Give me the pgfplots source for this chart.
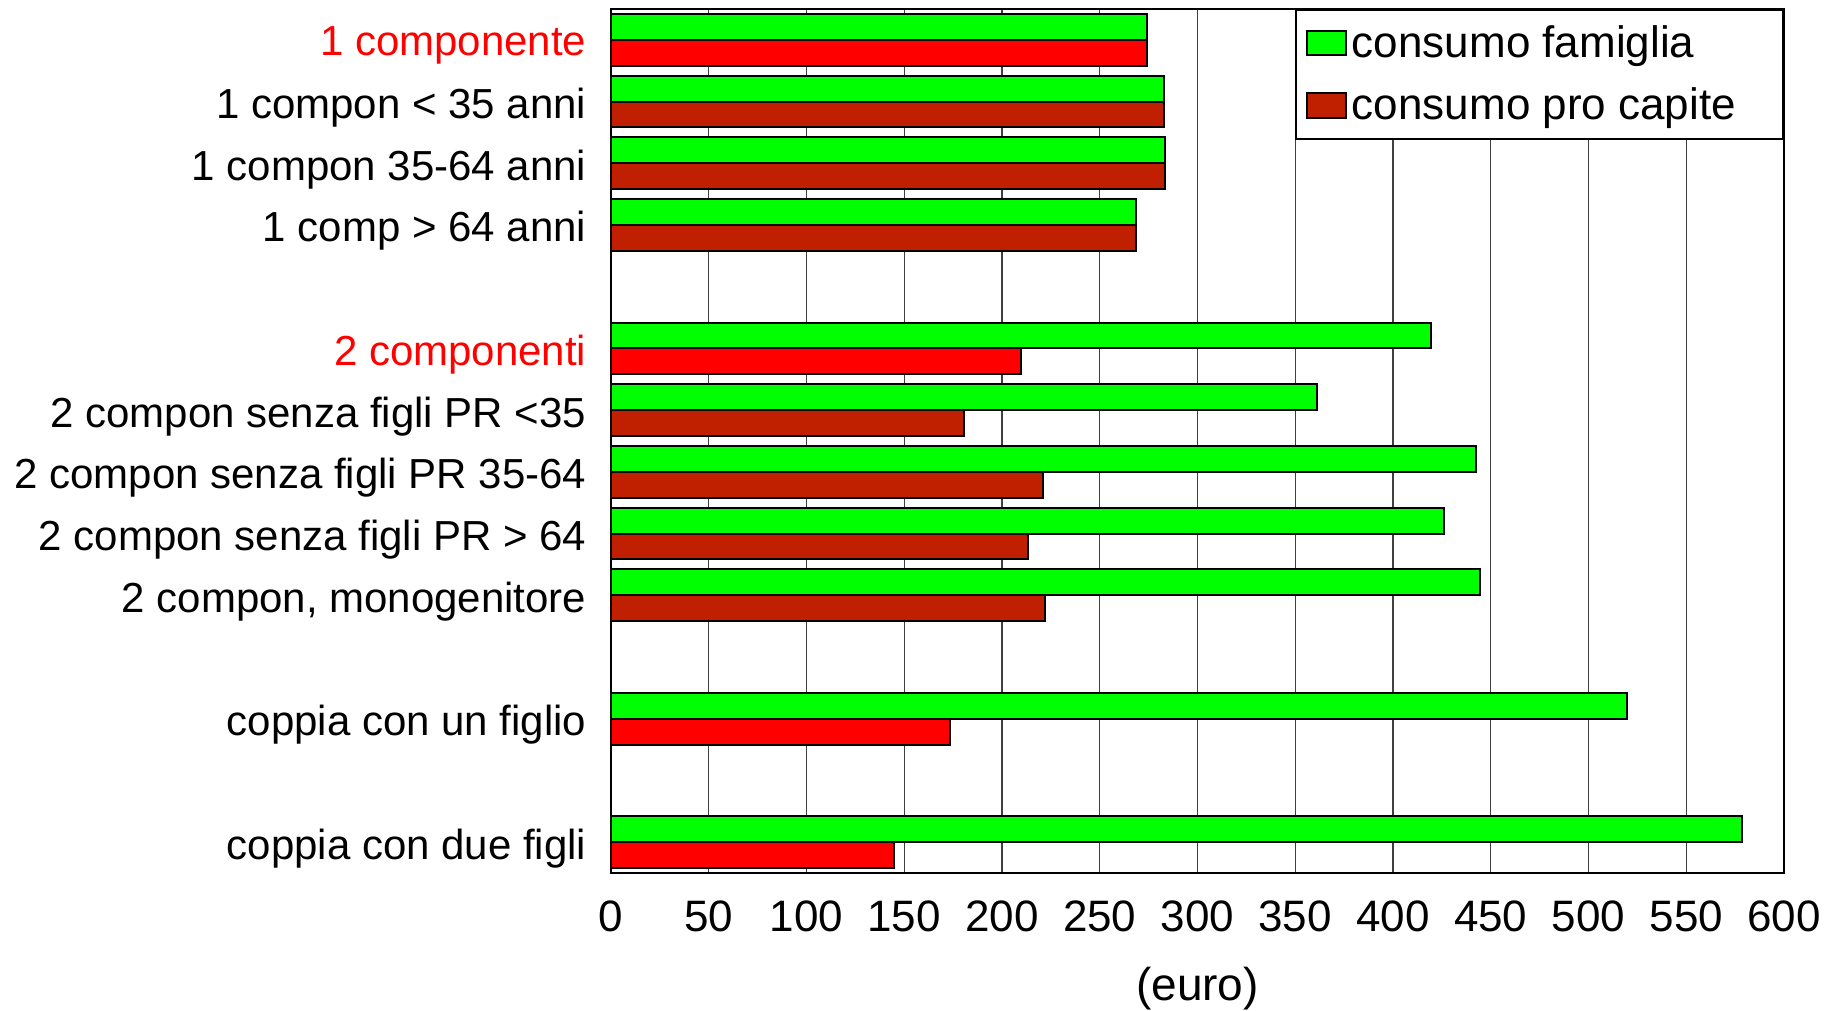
\documentclass[border=0pt]{standalone}
\usepackage{pgfplots}
\pgfplotsset{compat=1.18}
\usepackage{fontspec}
\setmainfont{Liberation Sans}
\definecolor{cgreen}{RGB}{0,255,0}
\definecolor{cdark}{RGB}{192,32,0}
\definecolor{cred}{RGB}{255,0,0}
\newcommand{\fsy}{\fontsize{21}{25}\selectfont}
\newcommand{\fsx}{\fontsize{22}{26}\selectfont}
\newcommand{\fsl}{\fontsize{23}{27}\selectfont}
\begin{document}
\begin{tikzpicture}
\begin{axis}[
  name=ax,
  scale only axis,
  width=586.5pt, height=432pt,
  xbar,
  bar width=0.42,
  xmin=0, xmax=600,
  ymin=-0.5, ymax=13.5,
  y dir=reverse,
  xtick={0,50,...,600},
  ytick={0,1,2,3,5,6,7,8,9,11,13},
  yticklabels={{\textcolor{red}{1 componente}},{1 compon < 35 anni},{1 compon 35-64 anni},{1 comp > 64 anni},{\textcolor{red}{2 componenti}},{2 compon senza figli PR <35},{2 compon senza figli PR 35-64},{2 compon senza figli PR > 64},{2 compon, monogenitore},{coppia con un figlio},{coppia con due figli}},
  /pgf/number format/assume math mode=true,
  xticklabel style={font=\fsx, yshift=-10.3pt},
  yticklabel style={font=\fsy, xshift=-8.8pt, yshift=-3pt},
  major tick length=0pt,
  xmajorgrids,
  major grid style={black!75, line width=0.6pt},
  axis line style={line width=1.2pt},
  xlabel={(euro)},
  xlabel style={font=\fsl, at={(axis description cs:0.5,0)}, anchor=center, yshift=-58pt},
  legend style={at={(1,1)}, anchor=north east, draw=black, line width=1pt, font=\fsx,
    inner xsep=5pt, inner ysep=6pt, row sep=9.6pt, legend cell align=left,
    nodes={inner xsep=2.5pt}},
]
\addplot[draw=black, line width=1pt, fill=cgreen, bar shift=-0.21,
  legend image code/.code={\draw[draw=black, line width=1pt, fill=cgreen] (0pt,-6pt) rectangle (19.3pt,6.3pt);}]
  coordinates {(274,0) (283,1) (283.5,2) (268.5,3) (419.5,5) (361.2,6) (442.5,7) (426.3,8) (444.5,9) (519.5,11) (578.6,13)};
\addlegendentry{consumo famiglia}
\addplot[draw=black, line width=1pt, fill=cdark, bar shift=0.21,
  legend image code/.code={\draw[draw=black, line width=1pt, fill=cdark] (0pt,-6pt) rectangle (19.3pt,6.3pt);}]
  coordinates {(283,1) (283.5,2) (268.5,3) (180.6,6) (221.2,7) (213.2,8) (222.2,9)};
\addlegendentry{consumo pro capite\hspace*{16pt}\mbox{}}
\addplot[draw=black, line width=1pt, fill=cred, bar shift=0.21, forget plot]
  coordinates {(274,0) (209.7,5) (173.2,11) (144.7,13)};
\end{axis}
\pgfresetboundingbox
\path (ax.south west) ++(-305.5pt,-69pt) rectangle ++(916pt,505.5pt);
\end{tikzpicture}
\end{document}
